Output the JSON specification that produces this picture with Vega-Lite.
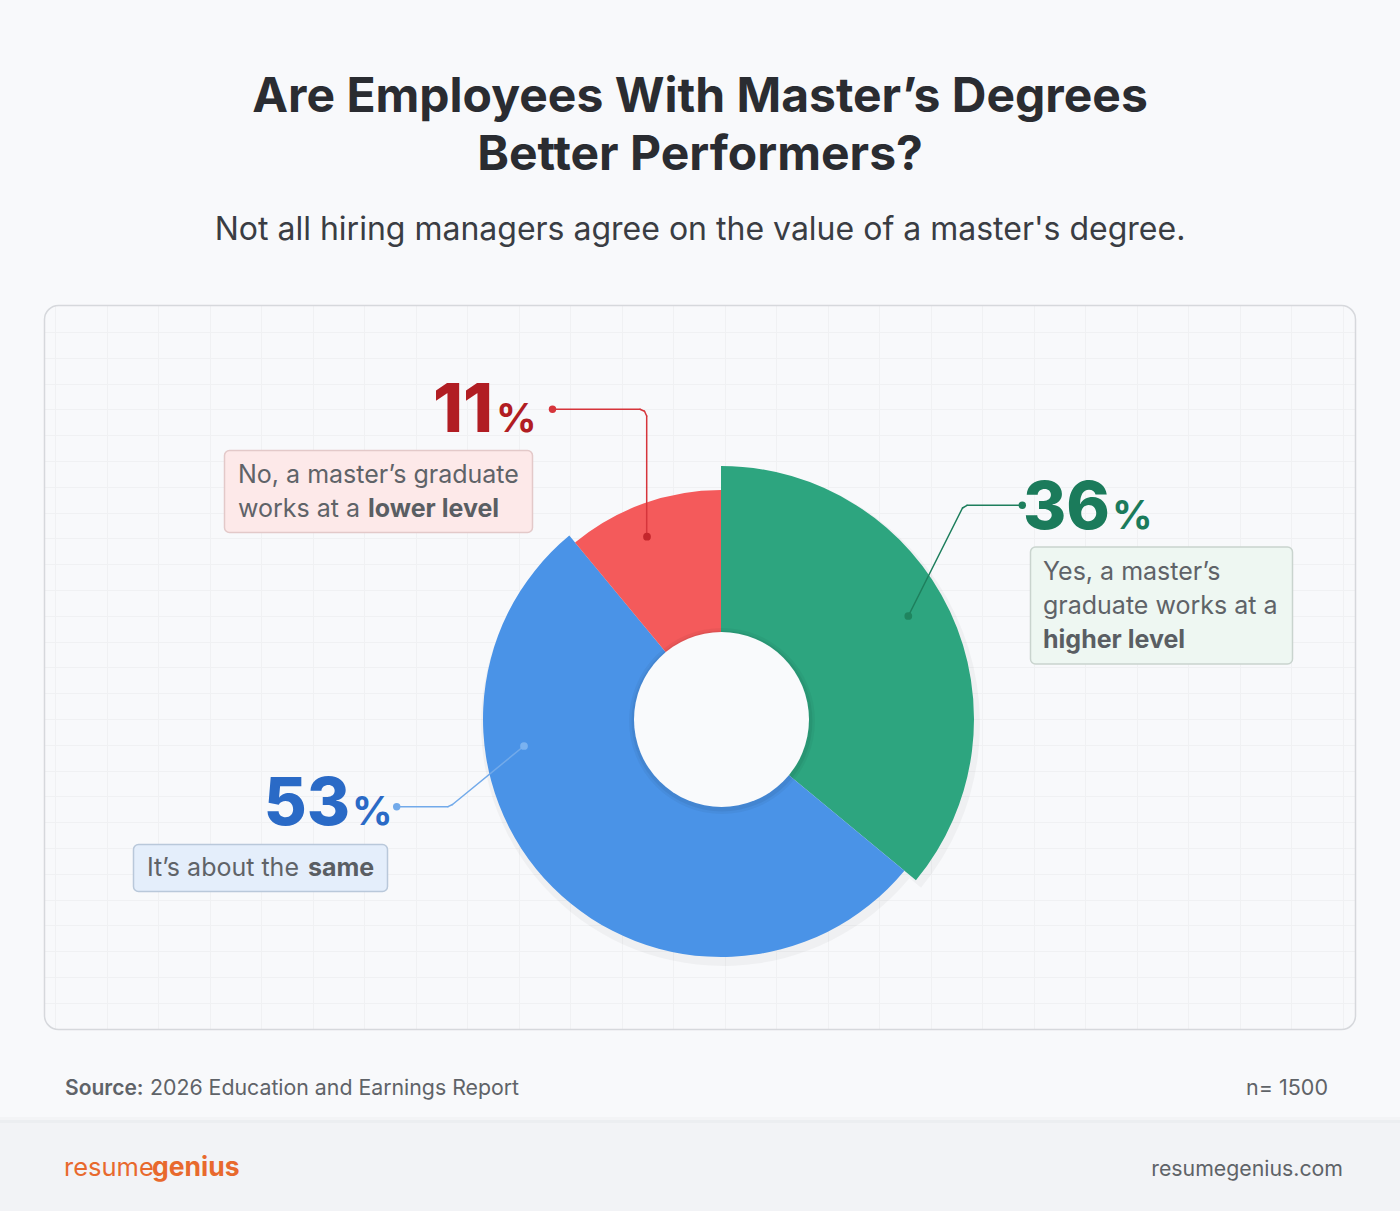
{
  "$schema": "https://vega.github.io/schema/vega-lite/v6.json",
  "width": 1400,
  "height": 1211,
  "autosize": {"type": "fit", "contains": "padding"},
  "padding": 0,
  "background": "#f8f9fb",
  "config": {"view": {"stroke": null, "fill": "#ffffff"}},
  "datasets": {
    "slices": [
      {"answer": "Yes, a master’s graduate works at a higher level", "pct": 36, "order": 1},
      {"answer": "It’s about the same", "pct": 53, "order": 2},
      {"answer": "No, a master’s graduate works at a lower level", "pct": 11, "order": 3}
    ],
    "one": [{}]
  },
  "data": {"name": "slices"},
  "layer": [
    {
      "data": {"name": "one"},
      "mark": {"type": "point", "opacity": 0},
      "encoding": {
        "x": {"datum": 700, "type": "quantitative", "scale": {"domain": [0, 1400], "nice": false, "zero": false},
          "axis": {"grid": true, "gridColor": "#f0f1f3", "gridWidth": 1, "labels": false, "ticks": false, "domain": false, "title": null,
            "values": [55,81,107,132,158,184,210,235,261,287,313,338,364,390,416,441,467,493,519,544,570,596,622,647,673,699,725,750,776,802,828,853,879,905,931,956,982,1008,1034,1060,1085,1111,1137,1163,1188,1214,1240,1266,1291,1317,1343]}},
        "y": {"datum": 600, "type": "quantitative", "scale": {"domain": [0, 1211], "nice": false, "zero": false, "reverse": true},
          "axis": {"grid": true, "gridColor": "#f0f1f3", "gridWidth": 1, "labels": false, "ticks": false, "domain": false, "title": null,
            "values": [332,358,384,409,435,461,487,513,538,564,590,616,642,667,693,719,745,771,796,822,848,874,900,925,951,977,1003]}}
      }
    },
    {"data": {"name": "one"}, "mark": {"type": "rect", "x": 0, "x2": 1400, "y": 0, "y2": 305, "fill": "#f8f9fb"}, "encoding": {}},
    {"data": {"name": "one"}, "mark": {"type": "rect", "x": 0, "x2": 1400, "y": 1029, "y2": 1211, "fill": "#f8f9fb"}, "encoding": {}},
    {"data": {"name": "one"}, "mark": {"type": "rect", "x": 0, "x2": 44, "y": 300, "y2": 1035, "fill": "#f8f9fb"}, "encoding": {}},
    {"data": {"name": "one"}, "mark": {"type": "rect", "x": 1355, "x2": 1400, "y": 300, "y2": 1035, "fill": "#f8f9fb"}, "encoding": {}},
    {"data": {"name": "one"}, "mark": {"type": "rect", "x": 44.5, "x2": 1355.5, "y": 305.5, "y2": 1029.5, "filled": false, "stroke": "#d6d8dc", "strokeWidth": 1.5, "cornerRadius": 14}, "encoding": {}},
    {"data": {"name": "one"}, "mark": {"type": "rect", "x": 0, "x2": 1400, "y": 1117, "y2": 1123, "fill": "#f3f4f6"}, "encoding": {}},
    {"data": {"name": "one"}, "mark": {"type": "rect", "x": 0, "x2": 1400, "y": 1120, "y2": 1123, "fill": "#eceef1"}, "encoding": {}},
    {"data": {"name": "one"}, "mark": {"type": "rect", "x": 0, "x2": 1400, "y": 1123, "y2": 1211, "fill": "#f2f3f6"}, "encoding": {}},

    {
      "mark": {"type": "arc", "x": 723, "y": 724, "innerRadius": 87, "outerRadius": 257, "fill": "#000000"},
      "encoding": {
        "theta": {"field": "pct", "type": "quantitative", "stack": true},
        "order": {"field": "order", "type": "quantitative"},
        "opacity": {"condition": {"test": "datum.order === 1", "value": 0.035}, "value": 0}
      }
    },
    {
      "mark": {"type": "arc", "x": 723, "y": 724, "innerRadius": 87, "outerRadius": 242, "fill": "#000000"},
      "encoding": {
        "theta": {"field": "pct", "type": "quantitative", "stack": true},
        "order": {"field": "order", "type": "quantitative"},
        "opacity": {"condition": {"test": "datum.order === 2", "value": 0.035}, "value": 0}
      }
    },
    {
      "mark": {"type": "arc", "x": 723, "y": 724, "innerRadius": 87, "outerRadius": 233, "fill": "#000000"},
      "encoding": {
        "theta": {"field": "pct", "type": "quantitative", "stack": true},
        "order": {"field": "order", "type": "quantitative"},
        "opacity": {"condition": {"test": "datum.order === 3", "value": 0.035}, "value": 0}
      }
    },
    {
      "mark": {"type": "arc", "x": 721, "y": 719, "innerRadius": 80, "outerRadius": 253},
      "encoding": {
        "theta": {"field": "pct", "type": "quantitative", "stack": true},
        "order": {"field": "order", "type": "quantitative"},
        "color": {"field": "answer", "type": "nominal", "legend": null,
          "scale": {"domain": ["Yes, a master’s graduate works at a higher level", "It’s about the same", "No, a master’s graduate works at a lower level"], "range": ["#2da57f", "#4a93e7", "#f45a5b"]}},
        "opacity": {"condition": {"test": "datum.order === 1", "value": 1}, "value": 0}
      }
    },
    {
      "mark": {"type": "arc", "x": 721, "y": 719, "innerRadius": 80, "outerRadius": 238},
      "encoding": {
        "theta": {"field": "pct", "type": "quantitative", "stack": true},
        "order": {"field": "order", "type": "quantitative"},
        "color": {"field": "answer", "type": "nominal", "legend": null},
        "opacity": {"condition": {"test": "datum.order === 2", "value": 1}, "value": 0}
      }
    },
    {
      "mark": {"type": "arc", "x": 721, "y": 719, "innerRadius": 80, "outerRadius": 229},
      "encoding": {
        "theta": {"field": "pct", "type": "quantitative", "stack": true},
        "order": {"field": "order", "type": "quantitative"},
        "color": {"field": "answer", "type": "nominal", "legend": null},
        "opacity": {"condition": {"test": "datum.order === 3", "value": 1}, "value": 0}
      }
    },
    {"data": {"name": "one"}, "mark": {"type": "arc", "x": 722, "y": 721, "outerRadius": 93, "theta": 0, "theta2": 6.2832, "fill": "#000000", "opacity": 0.04}, "encoding": {}},
    {"data": {"name": "one"}, "mark": {"type": "arc", "x": 722, "y": 721, "outerRadius": 90.5, "theta": 0, "theta2": 6.2832, "fill": "#000000", "opacity": 0.05}, "encoding": {}},
    {"data": {"name": "one"}, "mark": {"type": "arc", "x": 721.5, "y": 719.5, "outerRadius": 87.5, "theta": 0, "theta2": 6.2832, "fill": "#f9fafc"}, "encoding": {}},

    {"data": {"name": "one"}, "mark": {"type": "rule", "stroke": "#d6353b", "strokeWidth": 1.5, "strokeCap": "round"}, "encoding": {"x": {"datum": 552, "type": "quantitative"}, "y": {"datum": 409.3, "type": "quantitative"}, "x2": {"datum": 640}, "y2": {"datum": 409.3}}},
    {"data": {"name": "one"}, "mark": {"type": "rule", "stroke": "#d6353b", "strokeWidth": 1.5, "strokeCap": "round"}, "encoding": {"x": {"datum": 640, "type": "quantitative"}, "y": {"datum": 409.3, "type": "quantitative"}, "x2": {"datum": 644.5}, "y2": {"datum": 411.2}}},
    {"data": {"name": "one"}, "mark": {"type": "rule", "stroke": "#d6353b", "strokeWidth": 1.5, "strokeCap": "round"}, "encoding": {"x": {"datum": 644.5, "type": "quantitative"}, "y": {"datum": 411.2, "type": "quantitative"}, "x2": {"datum": 646.7}, "y2": {"datum": 416}}},
    {"data": {"name": "one"}, "mark": {"type": "rule", "stroke": "#d6353b", "strokeWidth": 1.5, "strokeCap": "round"}, "encoding": {"x": {"datum": 646.7, "type": "quantitative"}, "y": {"datum": 416, "type": "quantitative"}, "x2": {"datum": 646.7}, "y2": {"datum": 536.7}}},
    {"data": {"name": "one"}, "mark": {"type": "circle", "x": 552.5, "y": 409.3, "size": 55, "fill": "#d6353b", "opacity": 1}, "encoding": {}},
    {"data": {"name": "one"}, "mark": {"type": "circle", "x": 647, "y": 536.7, "size": 60, "fill": "#c4262c", "opacity": 1}, "encoding": {}},

    {"data": {"name": "one"}, "mark": {"type": "rule", "stroke": "#1e7f5d", "strokeWidth": 1.5, "strokeCap": "round"}, "encoding": {"x": {"datum": 1022, "type": "quantitative"}, "y": {"datum": 505.3, "type": "quantitative"}, "x2": {"datum": 967}, "y2": {"datum": 505.3}}},
    {"data": {"name": "one"}, "mark": {"type": "rule", "stroke": "#1e7f5d", "strokeWidth": 1.5, "strokeCap": "round"}, "encoding": {"x": {"datum": 967, "type": "quantitative"}, "y": {"datum": 505.3, "type": "quantitative"}, "x2": {"datum": 962.5}, "y2": {"datum": 508}}},
    {"data": {"name": "one"}, "mark": {"type": "rule", "stroke": "#1e7f5d", "strokeWidth": 1.5, "strokeCap": "round"}, "encoding": {"x": {"datum": 962.5, "type": "quantitative"}, "y": {"datum": 508, "type": "quantitative"}, "x2": {"datum": 908.3}, "y2": {"datum": 616}}},
    {"data": {"name": "one"}, "mark": {"type": "circle", "x": 1022.3, "y": 505.3, "size": 55, "fill": "#1e7f5d", "opacity": 1}, "encoding": {}},
    {"data": {"name": "one"}, "mark": {"type": "circle", "x": 908.3, "y": 616, "size": 60, "fill": "#1f855f", "opacity": 1}, "encoding": {}},

    {"data": {"name": "one"}, "mark": {"type": "rule", "stroke": "#72aaea", "strokeWidth": 1.5, "strokeCap": "round"}, "encoding": {"x": {"datum": 397, "type": "quantitative"}, "y": {"datum": 806.7, "type": "quantitative"}, "x2": {"datum": 448}, "y2": {"datum": 806.7}}},
    {"data": {"name": "one"}, "mark": {"type": "rule", "stroke": "#72aaea", "strokeWidth": 1.5, "strokeCap": "round"}, "encoding": {"x": {"datum": 448, "type": "quantitative"}, "y": {"datum": 806.7, "type": "quantitative"}, "x2": {"datum": 452.5}, "y2": {"datum": 804.5}}},
    {"data": {"name": "one"}, "mark": {"type": "rule", "stroke": "#72aaea", "strokeWidth": 1.5, "strokeCap": "round"}, "encoding": {"x": {"datum": 452.5, "type": "quantitative"}, "y": {"datum": 804.5, "type": "quantitative"}, "x2": {"datum": 524}, "y2": {"datum": 746}}},
    {"data": {"name": "one"}, "mark": {"type": "circle", "x": 396.7, "y": 806.7, "size": 55, "fill": "#72aaea", "opacity": 1}, "encoding": {}},
    {"data": {"name": "one"}, "mark": {"type": "circle", "x": 524, "y": 746, "size": 60, "fill": "#7ab2f0", "opacity": 1}, "encoding": {}},

    {"data": {"name": "one"}, "mark": {"type": "rect", "x": 224.5, "x2": 532.5, "y": 450.5, "y2": 532.5, "fill": "#fde9e9", "stroke": "#e3c9c9", "strokeWidth": 1.5, "cornerRadius": 5}, "encoding": {}},
    {"data": {"name": "one"}, "mark": {"type": "rect", "x": 1030.5, "x2": 1292.5, "y": 547, "y2": 664, "fill": "#eef7f2", "stroke": "#c9d4ce", "strokeWidth": 1.5, "cornerRadius": 5}, "encoding": {}},
    {"data": {"name": "one"}, "mark": {"type": "rect", "x": 133.5, "x2": 387.5, "y": 844.5, "y2": 891.5, "fill": "#e4eefb", "stroke": "#b9c8da", "strokeWidth": 1.5, "cornerRadius": 5}, "encoding": {}},

    {"data": {"name": "one"}, "mark": {"type": "text", "text": "Are Employees With Master’s Degrees", "x": 700, "y": 112, "align": "center", "baseline": "alphabetic", "font": "Inter", "fontSize": 48, "fontWeight": 700, "fill": "#2a2c31"}, "encoding": {}},
    {"data": {"name": "one"}, "mark": {"type": "text", "text": "Better Performers?", "x": 700, "y": 170, "align": "center", "baseline": "alphabetic", "font": "Inter", "fontSize": 48, "fontWeight": 700, "fill": "#2a2c31"}, "encoding": {}},
    {"data": {"name": "one"}, "mark": {"type": "text", "text": "Not all hiring managers agree on the value of a master's degree.", "x": 700, "y": 240, "align": "center", "baseline": "alphabetic", "font": "Inter", "fontSize": 32, "fontWeight": 400, "fill": "#3a3d43"}, "encoding": {}},

    {"data": {"name": "one"}, "mark": {"type": "text", "text": "11", "x": 493, "y": 432, "align": "right", "baseline": "alphabetic", "font": "Inter", "fontSize": 68, "fontWeight": 800, "fill": "#b11d23"}, "encoding": {}},
    {"data": {"name": "one"}, "mark": {"type": "text", "text": "%", "x": 496, "y": 432, "align": "left", "baseline": "alphabetic", "font": "Inter", "fontSize": 40, "fontWeight": 700, "fill": "#b11d23"}, "encoding": {}},
    {"data": {"name": "one"}, "mark": {"type": "text", "text": "36", "x": 1110, "y": 529, "align": "right", "baseline": "alphabetic", "font": "Inter", "fontSize": 66, "fontWeight": 800, "fill": "#1b7b5b"}, "encoding": {}},
    {"data": {"name": "one"}, "mark": {"type": "text", "text": "%", "x": 1112, "y": 529, "align": "left", "baseline": "alphabetic", "font": "Inter", "fontSize": 40, "fontWeight": 700, "fill": "#1b7b5b"}, "encoding": {}},
    {"data": {"name": "one"}, "mark": {"type": "text", "text": "53", "x": 350, "y": 825, "align": "right", "baseline": "alphabetic", "font": "Inter", "fontSize": 66, "fontWeight": 800, "fill": "#2a6ac6"}, "encoding": {}},
    {"data": {"name": "one"}, "mark": {"type": "text", "text": "%", "x": 352, "y": 825, "align": "left", "baseline": "alphabetic", "font": "Inter", "fontSize": 40, "fontWeight": 700, "fill": "#2a6ac6"}, "encoding": {}},

    {"data": {"name": "one"}, "mark": {"type": "text", "text": "No, a master’s graduate", "x": 238, "y": 483, "align": "left", "baseline": "alphabetic", "font": "Inter", "fontSize": 25, "fill": "#5f6368"}, "encoding": {}},
    {"data": {"name": "one"}, "mark": {"type": "text", "text": "works at a", "x": 238, "y": 517, "align": "left", "baseline": "alphabetic", "font": "Inter", "fontSize": 25, "fill": "#5f6368"}, "encoding": {}},
    {"data": {"name": "one"}, "mark": {"type": "text", "text": "lower level", "x": 368, "y": 517, "align": "left", "baseline": "alphabetic", "font": "Inter", "fontSize": 25, "fontWeight": 700, "fill": "#5a5e63"}, "encoding": {}},

    {"data": {"name": "one"}, "mark": {"type": "text", "text": "Yes, a master’s", "x": 1043, "y": 580, "align": "left", "baseline": "alphabetic", "font": "Inter", "fontSize": 25, "fill": "#5f6368"}, "encoding": {}},
    {"data": {"name": "one"}, "mark": {"type": "text", "text": "graduate works at a", "x": 1043, "y": 614, "align": "left", "baseline": "alphabetic", "font": "Inter", "fontSize": 25, "fill": "#5f6368"}, "encoding": {}},
    {"data": {"name": "one"}, "mark": {"type": "text", "text": "higher level", "x": 1043, "y": 648, "align": "left", "baseline": "alphabetic", "font": "Inter", "fontSize": 25, "fontWeight": 700, "fill": "#5a5e63"}, "encoding": {}},

    {"data": {"name": "one"}, "mark": {"type": "text", "text": "It’s about the", "x": 147, "y": 876, "align": "left", "baseline": "alphabetic", "font": "Inter", "fontSize": 25, "fill": "#5f6368"}, "encoding": {}},
    {"data": {"name": "one"}, "mark": {"type": "text", "text": "same", "x": 308, "y": 876, "align": "left", "baseline": "alphabetic", "font": "Inter", "fontSize": 25, "fontWeight": 700, "fill": "#5a5e63"}, "encoding": {}},

    {"data": {"name": "one"}, "mark": {"type": "text", "text": "Source:", "x": 65, "y": 1095, "align": "left", "baseline": "alphabetic", "font": "Inter", "fontSize": 21, "fontWeight": 600, "fill": "#5f6368"}, "encoding": {}},
    {"data": {"name": "one"}, "mark": {"type": "text", "text": "2026 Education and Earnings Report", "x": 150, "y": 1095, "align": "left", "baseline": "alphabetic", "font": "Inter", "fontSize": 21.3, "fill": "#5f6368"}, "encoding": {}},
    {"data": {"name": "one"}, "mark": {"type": "text", "text": "n= 1500", "x": 1328, "y": 1095, "align": "right", "baseline": "alphabetic", "font": "Inter", "fontSize": 21.5, "fill": "#5f6368"}, "encoding": {}},

    {"data": {"name": "one"}, "mark": {"type": "text", "text": "resume", "x": 64, "y": 1176, "align": "left", "baseline": "alphabetic", "font": "Inter", "fontSize": 25.5, "fill": "#e8692d"}, "encoding": {}},
    {"data": {"name": "one"}, "mark": {"type": "text", "text": "genius", "x": 152, "y": 1176, "align": "left", "baseline": "alphabetic", "font": "Inter", "fontSize": 26.5, "fontWeight": 700, "fill": "#e8692d"}, "encoding": {}},
    {"data": {"name": "one"}, "mark": {"type": "text", "text": "resumegenius.com", "x": 1343, "y": 1176, "align": "right", "baseline": "alphabetic", "font": "Inter", "fontSize": 21.3, "fill": "#5f6368"}, "encoding": {}}
  ]
}
